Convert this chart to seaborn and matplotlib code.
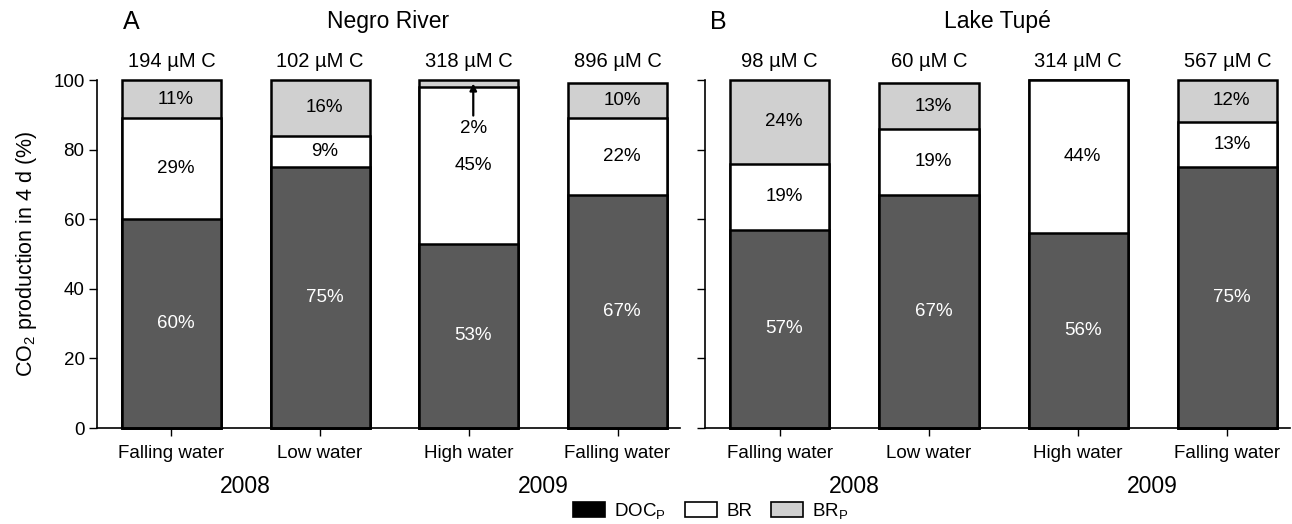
import numpy as np
import pandas as pd
import matplotlib
matplotlib.use("Agg")
import matplotlib.pyplot as plt
import seaborn as sns
from matplotlib.patches import Patch

# data
samplings = ["2008 falling", "2008 low", "2009 high", "2009 falling"]
seasons = ["Falling water", "Low water", "High water", "Falling water"]
years = ["2008", "2009"]
sites = ["Negro River", "Lake Tupé"]
panel_letters = ["A", "B"]

negro_c = [194, 102, 318, 896]
tupe_c = [98, 60, 314, 567]

negro_docp = [60, 75, 53, 67]
negro_br = [29, 9, 45, 22]
negro_brp = [11, 16, 2, 10]

tupe_docp = [57, 67, 56, 75]
tupe_br = [19, 19, 44, 13]
tupe_brp = [24, 13, 0, 12]

col_docp = "#5a5a5a"
col_br = "white"
col_brp = "#d0d0d0"

sns.set_style("ticks")
plt.rcParams['font.family'] = ['Liberation Sans', 'DejaVu Sans']
plt.rcParams['mathtext.fontset'] = 'custom'
plt.rcParams['mathtext.rm'] = 'Liberation Sans'
plt.rcParams['mathtext.it'] = 'Liberation Sans:italic'
for k in ['text.color', 'axes.labelcolor', 'xtick.color', 'ytick.color', 'axes.edgecolor']:
    plt.rcParams[k] = 'black'


def make_frame(docp, br, brp):
    df = pd.DataFrame({'sampling': samplings, 'docp': docp, 'br': br, 'brp': brp})
    df['low'] = df['docp']
    df['mid'] = df['docp'] + df['br']
    df['top'] = df['mid'] + df['brp']
    return df


def draw_panel(ax, df, conc, site):
    bar_kw = dict(order=samplings, width=0.665, edgecolor='black', linewidth=1.8,
                  saturation=1, errorbar=None, clip_on=False, ax=ax)
    # overlay cumulative totals to get stacked bars
    sns.barplot(data=df, x='sampling', y='top', color=col_brp, **bar_kw)
    sns.barplot(data=df, x='sampling', y='mid', color=col_br, **bar_kw)
    sns.barplot(data=df, x='sampling', y='low', color=col_docp, **bar_kw)

    for i, row in df.iterrows():
        ax.text(i + 0.03, row['low'] / 2, f"{row['docp']}%", color='white',
                ha='center', va='center', fontsize=13.5)
        if row['br'] > 0:
            ax.text(i + 0.03, (row['low'] + row['mid']) / 2, f"{row['br']}%",
                    ha='center', va='center', fontsize=13.5)
        if row['brp'] >= 5:
            ax.text(i + 0.03, (row['mid'] + row['top']) / 2, f"{row['brp']}%",
                    ha='center', va='center', fontsize=13.5)
        elif row['brp'] > 0:
            ax.annotate(f"{row['brp']}%", xy=(i + 0.03, (row['mid'] + row['top']) / 2),
                        xytext=(i + 0.03, row['mid'] - 12), ha='center', va='center',
                        fontsize=13.5,
                        arrowprops=dict(arrowstyle='-|>', color='black', lw=1.6,
                                        shrinkA=1, shrinkB=0, mutation_scale=10))
        ax.text(i, 105.2, f"{conc[i]} µM C", ha='center', va='center',
                fontsize=14.5, clip_on=False)

    ax.set_xlim(-0.5, 3.42)
    ax.set_ylim(0, 100)
    ax.set_yticks([0, 20, 40, 60, 80, 100])
    ax.set_xticks(range(4))
    ax.set_xticklabels(seasons, fontsize=13.5)
    ax.set_xlabel('')
    ax.set_ylabel('')
    ax.tick_params(axis='both', direction='out', length=6, width=1, pad=6)
    ax.tick_params(axis='y', labelsize=13.5, pad=3)
    for s in ['left', 'bottom']:
        ax.spines[s].set_linewidth(1.2)
    sns.despine(ax=ax)

    trans = ax.get_xaxis_transform()
    ax.text(0.5, -0.167, years[0], transform=trans, ha='center', va='center', fontsize=16.5)
    ax.text(2.5, -0.167, years[1], transform=trans, ha='center', va='center', fontsize=16.5)
    ax.text(0.5, 1.167, site, transform=ax.transAxes, ha='center', va='center', fontsize=16.5)


fig = plt.figure(figsize=(12.92, 5.24), dpi=100)
ax_a = fig.add_axes([0.0751, 0.1832, 0.4512, 0.6641])
ax_b = fig.add_axes([0.5457, 0.1832, 0.4528, 0.6641])

draw_panel(ax_a, make_frame(negro_docp, negro_br, negro_brp), negro_c, sites[0])
draw_panel(ax_b, make_frame(tupe_docp, tupe_br, tupe_brp), tupe_c, sites[1])

ax_b.set_yticklabels([])
ax_a.set_ylabel('CO$_2$ production in 4 d (%)', fontsize=15.5, labelpad=10)

fig.text(131 / 1292, 1 - 22 / 524, panel_letters[0], ha='center', va='center', fontsize=18)
fig.text(718 / 1292, 1 - 22 / 524, panel_letters[1], ha='center', va='center', fontsize=18)

handles = [Patch(facecolor='black', edgecolor='black', linewidth=1.2),
           Patch(facecolor=col_br, edgecolor='black', linewidth=1.2),
           Patch(facecolor=col_brp, edgecolor='black', linewidth=1.2)]
fig.legend(handles, [r'DOC$_\mathrm{P}$', 'BR', r'BR$_\mathrm{P}$'], loc='center',
           bbox_to_anchor=(0.55, 0.025), ncol=3, frameon=False, fontsize=13.5,
           handlelength=1.7, handleheight=0.9, columnspacing=1.0, handletextpad=0.5)

fig.savefig('out.png', dpi=100)
